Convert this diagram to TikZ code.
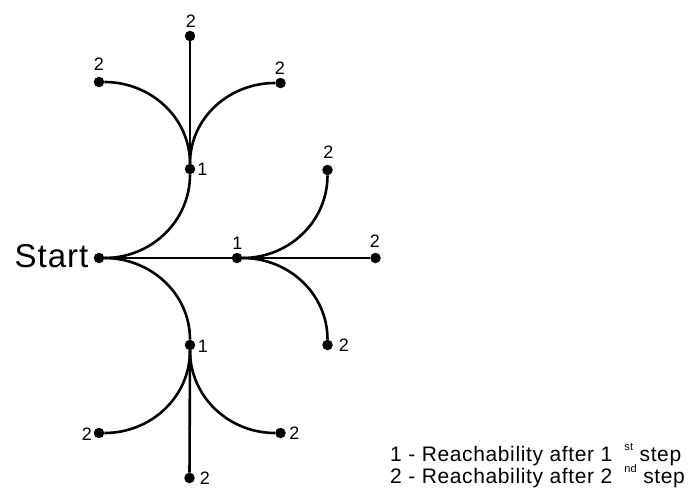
\documentclass[tikz,border=0pt]{standalone}
\usepackage{fontspec}
\setmainfont{Liberation Sans}[LetterSpace=3]
\begin{document}
\begin{tikzpicture}[x=1pt,y=-1pt,
  dot/.style={circle,fill=black,inner sep=0pt,minimum size=10.5pt},
  lbl/.style={inner sep=0pt,font=\fontsize{18}{18}\selectfont},
  conn/.style={line width=2.6pt,black},
  legend/.style={inner sep=0pt,anchor=base west,font=\fontsize{21}{21}\selectfont}]
\useasboundingbox (0,0) rectangle (693,495);
% dots
\node[dot] (S) at (99,258) {};
\node[dot] (U1) at (190,169) {};
\node[dot] (M1) at (237,258) {};
\node[dot] (L1) at (190,345) {};
\node[dot] (UT) at (190,36) {};
\node[dot] (UL) at (99,82) {};
\node[dot] (UR) at (280.5,83) {};
\node[dot] (MT) at (327.5,170) {};
\node[dot] (MR) at (375.5,258) {};
\node[dot] (MB) at (327.5,345) {};
\node[dot] (LL) at (99,433) {};
\node[dot] (LR) at (280.5,433) {};
\node[dot] (LB) at (189.5,478) {};
% connectors
\draw[conn] (S) to[out=0,in=-90] (U1);
\draw[conn] (S) to[out=0,in=90] (L1);
\draw[conn] (S) -- (MR);
\draw[conn] (U1) -- (UT);
\draw[conn] (U1) to[out=90,in=0] (UL);
\draw[conn] (U1) to[out=90,in=180] (UR);
\draw[conn] (M1) to[out=0,in=-90] (MT);
\draw[conn] (M1) to[out=0,in=90] (MB);
\draw[conn] (L1) -- (LB);
\draw[conn] (L1) to[out=-90,in=0] (LL);
\draw[conn] (L1) to[out=-90,in=180] (LR);
% labels
\node[inner sep=0pt,font=\fontsize{33}{33}\selectfont] (tS) at (51.5,256.5) {Start};
\node[lbl] (tU1) at (202.5,169.5) {1};
\node[lbl] (tM1) at (237.5,243) {1};
\node[lbl] (tL1) at (203,346) {1};
\node[lbl] (tUT) at (191,21) {2};
\node[lbl] (tUL) at (99,64.5) {2};
\node[lbl] (tUR) at (280,68.5) {2};
\node[lbl] (tMT) at (328.5,152) {2};
\node[lbl] (tMR) at (375,241.5) {2};
\node[lbl] (tMB) at (344,345) {2};
\node[lbl] (tLL) at (87,434) {2};
\node[lbl] (tLR) at (294.5,433) {2};
\node[lbl] (tLB) at (205,478.5) {2};
% legend
\node[legend] (leg1) at (390,461.7) {1 - Reachability after 1\hspace{12pt}\raisebox{11pt}{\fontsize{11}{11}\selectfont st} step};
\node[legend] (leg2) at (390,483) {2 - Reachability after 2\hspace{12pt}\raisebox{11pt}{\fontsize{11}{11}\selectfont nd} step};
\end{tikzpicture}
\end{document}
